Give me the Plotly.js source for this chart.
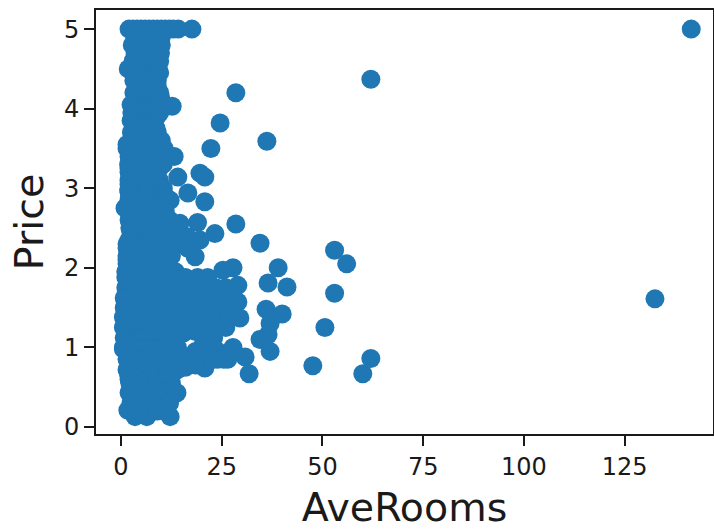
<!DOCTYPE html>
<html>
<head>
<meta charset="utf-8">
<script src="https://cdn.plot.ly/plotly-3.0.0.min.js"></script>
<style>html,body{margin:0;padding:0;background:#fff}</style>
</head>
<body>
<div id="chart" style="width:714px;height:530px"></div>
<script>
const aveRooms = [
  2,4,6,8,10,12,14.2,17.6,3,5,7,9,11,13,
  4,6,8,9.5,3.5,6,8.5,10, 3.5,5.5,7.5,9.8,2.8,5,7,10, 2,4,6,8,9.3,3,5,7,9,9.6,1.8, 3.5,5.5,7.5,9,4.5,6.5,8.5,9.6,3.2, 3.8,6,8,9.6,3.2,5,7,9,9.8,
  3,5,7,9,11,12.7,2.5,2.7,4,6.5,9.6, 3.2,5.5,8,8.9,2.5,4,6,8, 3,5,7,8.7,2.6,4,6,8,9, 2.6,5,7,9,10,
  1.5,3.5,6,8,10.7,22.3,1.5, 2,4,6,8,10,13.2,1.9, 2,4,6,8,9.5,10.5,2, 2,4,6,8,9.5,14.1,2,
  2,4,6,8,10,1.9,10.5, 2,4,6,8,10,12.2,2.2,11, 1,3,5,7,9,1.2,11, 2,4,6,8,10,2.2,10.5,12, 2.5,5,7.5,10,12,2.2,
  1.5,4,6.5,9,11.5,14,2,13,15,16.5,
  1.5,4,6.5,9,11,1.5,12.5, 1.5,4,6.5,9,11.5,1.5, 1.2,3.5,6,8.5,11,13.5,
  1.2,3.5,6,8.5,11,13.5,16,19,21.5,25.3,27.8,
  1.2,3.5,6,8.5,11,13.5,16,18.5,21,23.5,26,29,
  0.8,3,5.5,8,10.5,13,15.5,18,20.5,23,25.5,28,1,
  0.8,3,5.5,8,10.5,13,15.5,18,20.5,23,25.5,29,1,
  0.6,3,5.5,8,10.5,13,15.5,18,20.5,23,25.5,27,1,
  0.6,3,5.5,8,10.5,13,15.5,18,20.5,23,26,29.5,
  0.8,3,5.5,8,10.5,13,20.5,23,15.5,18.5,1,
  0.6,3,5.5,8,10.5,13,14,20,23,1.5,
  0.6,3,5.5,8,10.5,13,15.5,18.5,21,24,27.8,
  1.5,4,6.5,9,11.5,14,16.5,19,21.5,24,26.5,30.8,2,
  1.5,4,6.5,9,11.5,14,16,20.8,31.8,2,15,17,18.5,23,25.5,1.8,
  2,4,6.5,9,11,11.7,12.5,12,2.2, 2,4,6.5,9,11.5,13.9,2.7, 2.5,5,7.5,10,12,4.5,8,10,12, 1.7,3.5,6.4,9,12.2,
  14.6,19,28.5,23.3,19.6,16.4,18.4,
  19.6,20.8,16.6,20.8,28.5,24.6,36.2,
  34.5,39,36.5,41.2,36,40,37,36.5,34.5,37,47.6,50.6,
  53,56,53,60,62,62,132.5,141.5
];
const price = [
  5,5,5,5,5,5,5,5,5,5,5,5,5,5,
  4.85,4.85,4.85,4.85,4.92,4.92,4.92,4.9, 4.7,4.7,4.7,4.7,4.8,4.78,4.78,4.8, 4.5,4.5,4.5,4.5,4.5,4.6,4.6,4.6,4.6,4.6,4.5, 4.35,4.35,4.35,4.35,4.42,4.42,4.42,4.45,4.35, 4.2,4.2,4.2,4.2,4.2,4.28,4.28,4.28,4.15,
  4.03,4.03,4.03,4.03,4.03,4.03,4.05,3.95,3.97,3.97,3.95, 3.9,3.9,3.9,3.9,3.85,3.82,3.82,3.82, 3.75,3.75,3.75,3.75,3.7,3.67,3.67,3.67,3.7, 3.6,3.6,3.6,3.6,3.6,
  3.5,3.5,3.5,3.5,3.5,3.5,3.55, 3.4,3.4,3.4,3.4,3.4,3.4,3.3, 3.25,3.25,3.25,3.25,3.25,3.3,3.2, 3.1,3.1,3.1,3.1,3.1,3.14,3.05,
  2.95,2.95,2.95,2.95,2.95,2.98,3, 2.85,2.85,2.85,2.85,2.85,2.85,2.9,2.9, 2.75,2.75,2.75,2.75,2.75,2.76,2.7, 2.6,2.6,2.6,2.6,2.6,2.65,2.55,2.6, 2.45,2.45,2.45,2.45,2.45,2.5,
  2.3,2.3,2.3,2.3,2.3,2.3,2.35,2.3,2.35,2.25,
  2.15,2.15,2.15,2.15,2.15,2.25,2.15, 2.05,2.05,2.05,2.05,2.05,2.1, 1.95,1.95,1.95,1.95,1.95,1.95,
  1.88,1.88,1.88,1.88,1.88,1.88,1.88,1.88,1.88,1.97,2,
  1.75,1.75,1.75,1.75,1.75,1.75,1.75,1.75,1.75,1.75,1.75,1.78,
  1.62,1.62,1.62,1.62,1.62,1.62,1.62,1.62,1.62,1.62,1.62,1.62,1.62,
  1.5,1.5,1.5,1.5,1.5,1.5,1.5,1.5,1.5,1.5,1.5,1.57,1.45,
  1.38,1.38,1.38,1.38,1.38,1.38,1.38,1.38,1.38,1.38,1.38,1.38,1.3,
  1.25,1.25,1.25,1.25,1.25,1.25,1.25,1.25,1.25,1.25,1.25,1.37,
  1.12,1.12,1.12,1.12,1.12,1.12,1.12,1.12,1.18,1.2,1.13,
  1.0,1.0,1.0,1.0,1.0,1.0,1.0,1.0,1.0,1.05,
  0.98,0.98,0.98,0.98,0.98,0.98,0.88,0.95,0.95,0.95,1.0,
  0.85,0.85,0.85,0.85,0.85,0.85,0.85,0.85,0.85,0.85,0.85,0.88,0.9,
  0.72,0.72,0.72,0.72,0.72,0.72,0.75,0.74,0.67,0.8,0.8,0.8,0.78,0.85,0.85,0.68,
  0.6,0.6,0.6,0.6,0.6,0.63,0.55,0.65,0.55, 0.43,0.43,0.43,0.43,0.43,0.43,0.4, 0.3,0.3,0.3,0.3,0.3,0.2,0.22,0.33,0.3, 0.21,0.13,0.13,0.2,0.13,
  2.56,2.57,2.55,2.43,2.35,2.39,2.14,
  3.19,3.14,2.94,2.83,4.2,3.82,3.59,
  2.31,2,1.81,1.76,1.48,1.42,1.3,1.16,1.1,0.95,0.77,1.25,
  1.68,2.05,2.22,0.67,0.86,4.37,1.61,5
];
const xTicks = [0,25,50,75,100,125];
const yTicks = [0,1,2,3,4,5];
const ink = '#1a1a1a';
const font = {family:'"DejaVu Sans", sans-serif', size:24, color:ink};
const titleFont = {family:font.family, size:39.5, color:ink};
Plotly.newPlot('chart',[{
  type:'scatter', mode:'markers', x:aveRooms, y:price,
  marker:{color:'#1f77b4', size:19, line:{width:0}}
}],{
  width:714,height:530,
  margin:{l:96,r:1,t:10,b:96,pad:0},
  paper_bgcolor:'#fff',plot_bgcolor:'#fff',
  showlegend:false,font:font,
  xaxis:{range:[-6.2,146.9],tickmode:'array',tickvals:xTicks,ticktext:xTicks.map(String),
    showgrid:false,zeroline:false,showline:true,mirror:true,linecolor:ink,linewidth:2,
    ticks:'outside',ticklen:10,tickwidth:2,tickcolor:ink,tickfont:font,
    title:{text:'AveRooms',font:titleFont,standoff:15}},
  yaxis:{range:[-0.088,5.24],tickmode:'array',tickvals:yTicks,ticktext:yTicks.map(String),
    showgrid:false,zeroline:false,showline:true,mirror:true,linecolor:ink,linewidth:2,
    ticks:'outside',ticklen:10,tickwidth:2,tickcolor:ink,tickfont:font,
    title:{text:'Price',font:titleFont,standoff:8}}
},{displayModeBar:false,staticPlot:true});
</script>
</body>
</html>
